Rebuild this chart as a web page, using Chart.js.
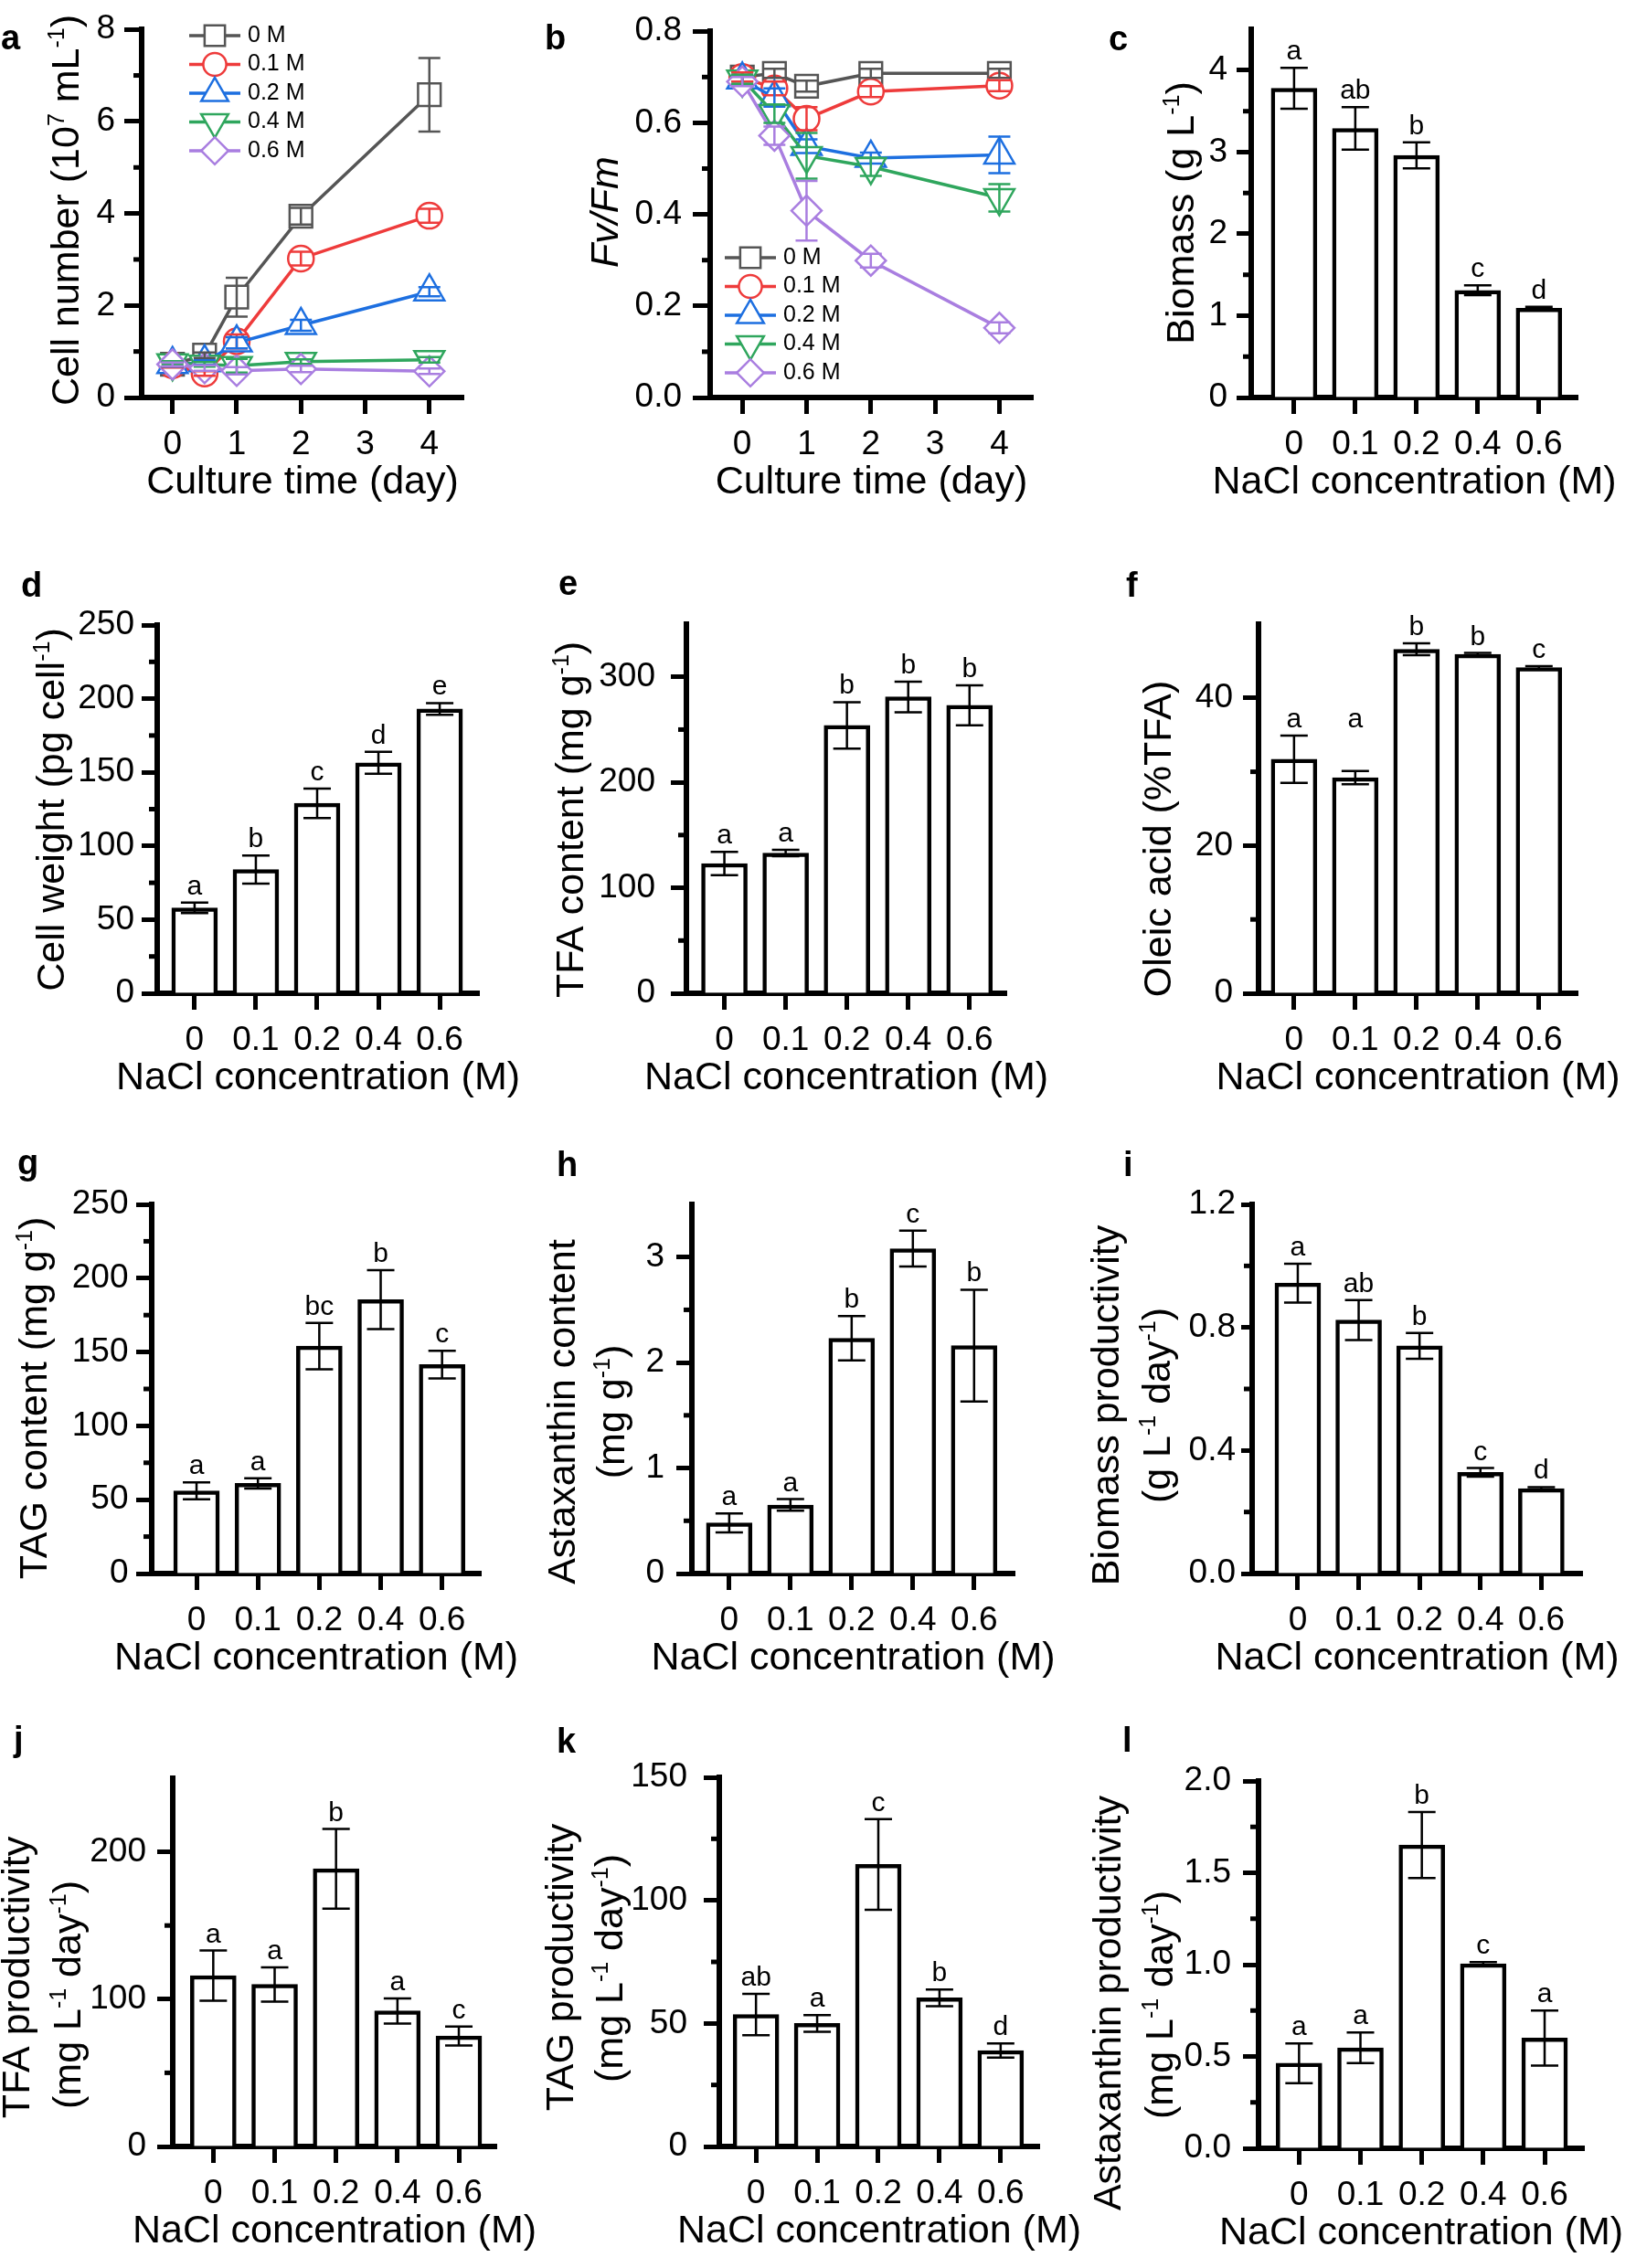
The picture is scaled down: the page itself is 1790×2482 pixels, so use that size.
<!DOCTYPE html>
<html>
<head>
<meta charset="utf-8">
<title>NaCl stress panels</title>
<script src="https://cdn.jsdelivr.net/npm/chart.js@4.4.1/dist/chart.umd.min.js"></script>
<style>
  html, body { margin: 0; padding: 0; background: #fff; }
  #page { position: relative; width: 1790px; height: 2482px; overflow: hidden; background: #fff; }
  #page canvas { position: absolute; }
</style>
</head>
<body>
<div id="page"></div>
<script>
const FONT = '"Liberation Sans", Arial, Helvetica, sans-serif';
const TICK_SIZE = 37, TITLE_SIZE = 43, SUP_SIZE = 25, SIG_SIZE = 30, LETTER_SIZE = 38;

// ---- time course (a, b) ----
const days = [0, 0.5, 1, 2, 4];
const dayTicks = [0, 1, 2, 3, 4];
const salts = ['0 M', '0.1 M', '0.2 M', '0.4 M', '0.6 M'];

const cellNumber = [
    [0.72, 0.92, 2.18, 3.94, 6.58],
    [0.70, 0.52, 1.22, 3.02, 3.95],
    [0.72, 0.76, 1.19, 1.57, 2.30],
    [0.75, 0.72, 0.69, 0.78, 0.82],
    [0.72, 0.64, 0.58, 0.62, 0.57]
];
const cellNumberErr = [
    [0.05, 0.06, 0.42, 0.18, 0.80],
    [0.05, 0.05, 0.15, 0.15, 0.15],
    [0.05, 0.05, 0.12, 0.12, 0.10],
    [0.04, 0.05, 0.15, 0.05, 0.06],
    [0.04, 0.06, 0.08, 0.07, 0.06]
];
const fvFm = [
    [0.700, 0.708, 0.680, 0.708, 0.708],
    [0.700, 0.675, 0.609, 0.668, 0.681],
    [0.694, 0.655, 0.549, 0.523, 0.530],
    [0.695, 0.620, 0.528, 0.504, 0.436],
    [0.690, 0.572, 0.408, 0.299, 0.152]
];
const fvFmErr = [
    [0.010, 0.010, 0.012, 0.010, 0.010],
    [0.010, 0.015, 0.025, 0.012, 0.012],
    [0.010, 0.020, 0.015, 0.012, 0.040],
    [0.010, 0.020, 0.050, 0.020, 0.030],
    [0.010, 0.020, 0.065, 0.015, 0.012]
];

// ---- bar panels (c - l) ----
const nacl = ['0', '0.1', '0.2', '0.4', '0.6'];

const biomass = [3.78, 3.29, 2.96, 1.31, 1.09];
const biomassErr = [0.25, 0.26, 0.16, 0.06, 0.02];
const biomassSig = ['a', 'ab', 'b', 'c', 'd'];

const cellWeight = [58, 84, 129, 156.5, 193];
const cellWeightErr = [3.5, 9.5, 10, 7.5, 4];
const cellWeightSig = ['a', 'b', 'c', 'd', 'e'];

const tfaContent = [123, 133, 254, 281, 273];
const tfaContentErr = [11, 3, 22, 14.5, 19];
const tfaContentSig = ['a', 'a', 'b', 'b', 'b'];

const oleicAcid = [31.7, 29.2, 46.6, 45.9, 44.1];
const oleicAcidErr = [3.2, 0.9, 0.8, 0.2, 0.2];
const oleicAcidSig = ['a', 'a', 'b', 'b', 'c'];

const tagContent = [56, 61, 154, 185.5, 141.5];
const tagContentErr = [5.7, 3.5, 15.7, 20, 9.4];
const tagContentSig = ['a', 'a', 'bc', 'b', 'c'];

const astaContent = [0.48, 0.65, 2.23, 3.08, 2.16];
const astaContentErr = [0.09, 0.055, 0.21, 0.17, 0.53];
const astaContentSig = ['a', 'a', 'b', 'c', 'b'];

const biomassProd = [0.944, 0.824, 0.74, 0.329, 0.276];
const biomassProdErr = [0.063, 0.065, 0.042, 0.014, 0.005];
const biomassProdSig = ['a', 'ab', 'b', 'c', 'd'];

const tfaProd = [116, 110, 188.5, 92, 75];
const tfaProdErr = [17, 11.6, 27, 8.5, 6.4];
const tfaProdSig = ['a', 'a', 'b', 'a', 'c'];

const tagProd = [53.6, 50, 114.6, 60.4, 39];
const tagProdErr = [8.4, 3.4, 18.4, 3.4, 2.9];
const tagProdSig = ['ab', 'a', 'c', 'b', 'd'];

const astaProd = [0.463, 0.547, 1.651, 1.004, 0.6];
const astaProdErr = [0.108, 0.083, 0.18, 0.01, 0.15];
const astaProdSig = ['a', 'a', 'b', 'c', 'a'];

// series styles
const saltColors = ['#555555', '#ee3b3b', '#1d6fe0', '#2fa65d', '#a97ee0'];
const saltMarkers = ['rect', 'circle', 'triangle', 'triangle', 'rectRot'];
const saltRotation = [0, 0, 0, 180, 0];
const markerRadius = [17.5, 14, 19, 19, 16.5];

const unitsLday = [['(mg L'], ['-1', 's'], [' day'], ['-1', 's'], [')']];

// layout of each panel (page pixels): origin of canvas, plot area [l, t, r, b]
const panels = [
    { key: 'a', kind: 'line', at: [0, 0], area: [155, 30, 507, 435], xr: [-0.48, 4.53],
      series: cellNumber, errs: cellNumberErr, yMax: 8, major: [0, 2, 4, 6, 8], minor: [1, 3, 5, 7], dec: 0,
      gap: 29, tick: 19, letter: [1, 54], legend: [207, 39],
      ytitle: [[71, 230, [['Cell number (10'], ['7', 's'], [' mL'], ['-1', 's'], [')']]]] },
    { key: 'b', kind: 'line', at: [585, 0], area: [777, 30, 1130, 435], xr: [-0.5, 4.52],
      series: fvFm, errs: fvFmErr, yMax: 0.8, major: [0, 0.2, 0.4, 0.6, 0.8], minor: [0.1, 0.3, 0.5, 0.7], dec: 1,
      gap: 31, tick: 19, letter: [596, 54], legend: [793, 282],
      ytitle: [[661, 232, [['Fv/Fm', 'i']]]] },
    { key: 'c', kind: 'bar', at: [1180, 0], area: [1369, 31, 1726, 435], xr: [-0.7, 4.63],
      values: biomass, errs: biomassErr, sig: biomassSig, yMax: 4.5, major: [0, 1, 2, 3, 4], minor: [0.5, 1.5, 2.5, 3.5], dec: 0,
      gap: 26, tick: 16, letter: [1213, 55],
      ytitle: [[1291, 233, [['Biomass (g L'], ['-1', 's'], [')']]]] },
    { key: 'd', kind: 'bar', at: [0, 600], area: [172, 684, 524, 1087], xr: [-0.61, 4.64],
      values: cellWeight, errs: cellWeightErr, sig: cellWeightSig, yMax: 250, major: [0, 50, 100, 150, 200, 250], minor: [25, 75, 125, 175, 225], dec: 0,
      gap: 25, tick: 17, letter: [23, 653],
      ytitle: [[55, 886, [['Cell weight (pg cell'], ['-1', 's'], [')']]]] },
    { key: 'e', kind: 'bar', at: [585, 600], area: [751, 683, 1101, 1087], xr: [-0.62, 4.6],
      values: tfaContent, errs: tfaContentErr, sig: tfaContentSig, yMax: 350, major: [0, 100, 200, 300], minor: [50, 150, 250], dec: 0,
      gap: 34, tick: 17, letter: [611, 651],
      ytitle: [[623, 897, [['TFA content (mg g'], ['-1', 's'], [')']]]] },
    { key: 'f', kind: 'bar', at: [1180, 600], area: [1377, 683, 1726, 1087], xr: [-0.58, 4.63],
      values: oleicAcid, errs: oleicAcidErr, sig: oleicAcidSig, sigAt: [null, 34.9, null, null, null],
      yMax: 50, major: [0, 20, 40], minor: [10, 30], dec: 0,
      gap: 28, tick: 17, letter: [1232, 653],
      ytitle: [[1266, 918, [['Oleic acid (%TFA)']]]] },
    { key: 'g', kind: 'bar', at: [0, 1235], area: [166, 1318, 526, 1722], xr: [-0.73, 4.63],
      values: tagContent, errs: tagContentErr, sig: tagContentSig, yMax: 250, major: [0, 50, 100, 150, 200, 250], minor: [25, 75, 125, 175, 225], dec: 0,
      gap: 25.5, tick: 17, letter: [19, 1285],
      ytitle: [[36, 1530, [['TAG content (mg g'], ['-1', 's'], [')']]]] },
    { key: 'h', kind: 'bar', at: [585, 1235], area: [757, 1318, 1110, 1722], xr: [-0.61, 4.66],
      values: astaContent, errs: astaContentErr, sig: astaContentSig, yMax: 3.5, major: [0, 1, 2, 3], minor: [0.5, 1.5, 2.5], dec: 0,
      gap: 30, tick: 17, letter: [609, 1287],
      ytitle: [[614, 1545, [['Astaxanthin content']]], [668, 1545, [['(mg g'], ['-1', 's'], [')']]]] },
    { key: 'i', kind: 'bar', at: [1180, 1235], area: [1370, 1318, 1731, 1722], xr: [-0.75, 4.67],
      values: biomassProd, errs: biomassProdErr, sig: biomassProdSig, yMax: 1.2, major: [0, 0.4, 0.8, 1.2], minor: [0.2, 0.6, 1.0], dec: 1,
      gap: 18, tick: 12, letter: [1229, 1287],
      ytitle: [[1209, 1538, [['Biomass productivity']]], [1265, 1538, [['(g L'], ['-1', 's'], [' day'], ['-1', 's'], [')']]]] },
    { key: 'j', kind: 'bar', at: [0, 1865], area: [189, 1946, 543, 2349], xr: [-0.66, 4.61],
      values: tfaProd, errs: tfaProdErr, sig: tfaProdSig, yMax: 250, major: [0, 100, 200], minor: [50, 150], dec: 0,
      gap: 29, tick: 17, letter: [15, 1916],
      ytitle: [[17, 2164, [['TFA productivity']]], [73, 2183, unitsLday]] },
    { key: 'k', kind: 'bar', at: [585, 1865], area: [787, 1945, 1137, 2349], xr: [-0.6, 4.63],
      values: tagProd, errs: tagProdErr, sig: tagProdSig, yMax: 150, major: [0, 50, 100, 150], minor: [25, 75, 125], dec: 0,
      gap: 35, tick: 17, letter: [609, 1918],
      ytitle: [[612, 2153, [['TAG productivity']]], [666, 2154, unitsLday]] },
    { key: 'l', kind: 'bar', at: [1180, 1865], area: [1377, 1949, 1733, 2351], xr: [-0.66, 4.64],
      values: astaProd, errs: astaProdErr, sig: astaProdSig, yMax: 2.0, major: [0, 0.5, 1, 1.5, 2], minor: [0.25, 0.75, 1.25, 1.75], dec: 1,
      gap: 30, tick: 17, letter: [1228, 1917],
      ytitle: [[1211, 2192, [['Astaxanthin productivity']]], [1268, 2194, unitsLday]] }
];

Chart.defaults.font.family = FONT;
Chart.defaults.color = '#000';

// text with superscripts / italics, centred on (cx, cy), optionally rotated
function drawRich(ctx, parts, cx, cy, rotate) {
    const fonts = parts.map(([, k]) =>
        k === 's' ? `${SUP_SIZE}px ${FONT}` : k === 'i' ? `italic ${TITLE_SIZE}px ${FONT}` : `${TITLE_SIZE}px ${FONT}`);
    const widths = parts.map(([t], i) => { ctx.font = fonts[i]; return ctx.measureText(t).width; });
    const total = widths.reduce((a, b) => a + b, 0);
    ctx.save();
    ctx.translate(cx, cy);
    if (rotate) ctx.rotate(-Math.PI / 2);
    ctx.textAlign = 'left';
    ctx.textBaseline = 'alphabetic';
    ctx.fillStyle = '#000';
    const base = 0.36 * TITLE_SIZE;
    let x = -total / 2;
    parts.forEach(([t, k], i) => {
        ctx.font = fonts[i];
        ctx.fillText(t, x, k === 's' ? base - 0.38 * TITLE_SIZE : base);
        x += widths[i];
    });
    ctx.restore();
}

function makeDecor(p) {
    const [ox, oy] = p.at;
    return {
        id: 'decor',
        afterDatasetsDraw(chart) {
            const ctx = chart.ctx, xs = chart.scales.x, ys = chart.scales.y;
            ctx.save();
            ctx.lineCap = 'butt';
            chart.data.datasets.forEach(ds => {
                ctx.strokeStyle = ds.errColor;
                ctx.lineWidth = 2.5;
                ds.data.forEach((pt, i) => {
                    const x = xs.getPixelForValue(pt.x);
                    const hi = ys.getPixelForValue(pt.y + ds.errs[i]);
                    const lo = ys.getPixelForValue(pt.y - ds.errs[i]);
                    ctx.beginPath();
                    ctx.moveTo(x, hi); ctx.lineTo(x, lo);
                    ctx.moveTo(x - ds.cap, hi); ctx.lineTo(x + ds.cap, hi);
                    ctx.moveTo(x - ds.cap, lo); ctx.lineTo(x + ds.cap, lo);
                    ctx.stroke();
                });
                if (ds.sig) {
                    ctx.fillStyle = '#000';
                    ctx.font = `${SIG_SIZE}px ${FONT}`;
                    ctx.textAlign = 'center';
                    ctx.textBaseline = 'alphabetic';
                    ds.data.forEach((pt, i) => {
                        const top = (ds.sigAt && ds.sigAt[i] != null) ? ds.sigAt[i] : pt.y + ds.errs[i];
                        ctx.fillText(ds.sig[i], xs.getPixelForValue(pt.x), ys.getPixelForValue(top) - 9);
                    });
                }
            });
            ctx.restore();
        },
        afterDraw(chart) {
            const ctx = chart.ctx, ys = chart.scales.y, area = chart.chartArea;
            ctx.save();
            // minor ticks
            ctx.strokeStyle = '#000';
            ctx.lineWidth = 5;
            p.minor.forEach(v => {
                const y = ys.getPixelForValue(v);
                ctx.beginPath();
                ctx.moveTo(area.left - 9, y);
                ctx.lineTo(area.left, y);
                ctx.stroke();
            });
            // x title
            ctx.fillStyle = '#000';
            ctx.font = `${TITLE_SIZE}px ${FONT}`;
            ctx.textAlign = 'center';
            ctx.textBaseline = 'middle';
            ctx.fillText(p.kind === 'line' ? 'Culture time (day)' : 'NaCl concentration (M)',
                (area.left + area.right) / 2, area.bottom + 93);
            // y title(s)
            p.ytitle.forEach(([cx, cy, parts]) => drawRich(ctx, parts, cx - ox, cy - oy, true));
            // panel letter
            ctx.font = `bold ${LETTER_SIZE}px ${FONT}`;
            ctx.textAlign = 'left';
            ctx.textBaseline = 'alphabetic';
            ctx.fillText(p.key, p.letter[0] - ox, p.letter[1] - oy);
            // legend
            if (p.legend) {
                salts.forEach((name, s) => {
                    const y = p.legend[1] - oy + s * 31.5;
                    const x0 = p.legend[0] - ox;
                    ctx.strokeStyle = saltColors[s];
                    ctx.lineWidth = 3.5;
                    ctx.beginPath();
                    ctx.moveTo(x0, y);
                    ctx.lineTo(x0 + 56, y);
                    ctx.stroke();
                    ctx.fillStyle = '#fff';
                    ctx.lineWidth = 2.5;
                    Chart.helpers.drawPoint(ctx, {
                        pointStyle: saltMarkers[s], rotation: saltRotation[s],
                        radius: markerRadius[s] * 0.9, borderWidth: 2.5
                    }, x0 + 28, y);
                    ctx.fillStyle = '#000';
                    ctx.font = `25px ${FONT}`;
                    ctx.textBaseline = 'middle';
                    ctx.fillText(name, x0 + 64, y);
                });
            }
            ctx.restore();
        }
    };
}

function buildPanel(p) {
    const W = 610;
    const [ox, oy] = p.at;
    const H = Math.min(640, 2482 - oy);
    const [l, t, r, b] = p.area;
    const canvas = document.createElement('canvas');
    canvas.width = W;
    canvas.height = H;
    canvas.style.left = ox + 'px';
    canvas.style.top = oy + 'px';
    document.getElementById('page').appendChild(canvas);

    const YW = 100, XH = 70;
    const isLine = p.kind === 'line';
    const xTicks = isLine ? dayTicks : nacl.map((_, i) => i);

    const datasets = isLine
        ? p.series.map((vals, s) => ({
            label: salts[s],
            data: vals.map((v, i) => ({ x: days[i], y: v })),
            errs: p.errs[s],
            errColor: saltColors[s],
            cap: 12,
            borderColor: saltColors[s],
            backgroundColor: '#fff',
            borderWidth: 3.5,
            pointStyle: saltMarkers[s],
            pointRotation: saltRotation[s],
            pointRadius: markerRadius[s],
            pointBorderWidth: 2.5,
            pointBackgroundColor: '#fff',
            pointBorderColor: saltColors[s],
            tension: 0,
            clip: false,
            order: 4 - s
        }))
        : [{
            data: p.values.map((v, i) => ({ x: i, y: v })),
            errs: p.errs,
            sig: p.sig,
            sigAt: p.sigAt,
            errColor: '#000',
            cap: 15,
            backgroundColor: '#fff',
            borderColor: '#000',
            borderWidth: 4.5,
            borderSkipped: 'start',
            barThickness: 50
        }];

    new Chart(canvas, {
        type: p.kind,
        data: { datasets },
        options: {
            responsive: false,
            animation: false,
            devicePixelRatio: 1,
            layout: {
                autoPadding: false,
                padding: { left: l - ox - YW, top: t - oy, right: ox + W - r, bottom: oy + H - b - XH }
            },
            plugins: { legend: { display: false }, tooltip: { enabled: false } },
            scales: {
                x: {
                    type: 'linear', position: 'bottom', min: p.xr[0], max: p.xr[1], offset: false,
                    afterBuildTicks: s => { s.ticks = xTicks.map(v => ({ value: v })); },
                    afterFit: s => { s.height = XH; },
                    ticks: {
                        autoSkip: false, maxRotation: 0, minRotation: 0, padding: 12,
                        font: { size: TICK_SIZE }, color: '#000',
                        callback: v => isLine ? String(v) : nacl[v]
                    },
                    grid: { offset: false, drawOnChartArea: false, drawTicks: true, tickLength: 18, tickWidth: 5, tickColor: '#000' },
                    border: { display: true, width: 6, color: '#000' }
                },
                y: {
                    type: 'linear', position: 'left', min: 0, max: p.yMax,
                    afterBuildTicks: s => { s.ticks = p.major.map(v => ({ value: v })); },
                    afterFit: s => { s.width = YW; },
                    ticks: {
                        padding: Math.max(p.gap - p.tick, 2),
                        font: { size: TICK_SIZE }, color: '#000',
                        callback: v => v.toFixed(p.dec)
                    },
                    grid: { drawOnChartArea: false, drawTicks: true, tickLength: p.tick, tickWidth: 5, tickColor: '#000' },
                    border: { display: true, width: 6, color: '#000' }
                }
            }
        },
        plugins: [makeDecor(p)]
    });
}

panels.forEach(buildPanel);
</script>
</body>
</html>
